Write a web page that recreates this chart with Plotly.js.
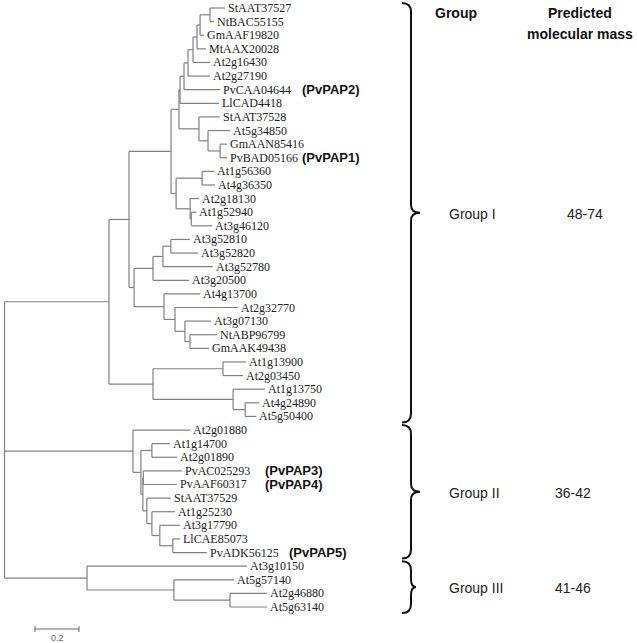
<!DOCTYPE html>
<html><head><meta charset="utf-8">
<script src="https://cdn.plot.ly/plotly-3.0.1.min.js"></script>
<style>html,body{margin:0;padding:0;background:#fff}</style>
</head><body><div id="chart" style="width:637px;height:643px"></div>
<script>
// ---------- DATA ----------
const leafOrder = [
  "StAAT37527","NtBAC55155","GmAAF19820","MtAAX20028","At2g16430","At2g27190","PvCAA04644","LlCAD4418",
  "StAAT37528","At5g34850","GmAAN85416","PvBAD05166","At1g56360","At4g36350","At2g18130","At1g52940",
  "At3g46120","At3g52810","At3g52820","At3g52780","At3g20500","At4g13700","At2g32770","At3g07130",
  "NtABP96799","GmAAK49438","At1g13900","At2g03450","At1g13750","At4g24890","At5g50400",
  "At2g01880","At1g14700","At2g01890","PvAC025293","PvAAF60317","StAAT37529","At1g25230","At3g17790",
  "LlCAE85073","PvADK56125",
  "At3g10150","At5g57140","At2g46880","At5g63140"
];
const nodeName = [
  "GI","N129","U","K","G","F","E","D","C","B","A",
  "StAAT37527","NtBAC55155","GmAAF19820","MtAAX20028","At2g16430","At2g27190","PvCAA04644","LlCAD4418",
  "H","StAAT37528","I","At5g34850","J","GmAAN85416","PvBAD05166",
  "L","L1","At1g56360","At4g36350","L2","At2g18130","L3","At1g52940","At3g46120",
  "M","M1","M2","M3","At3g52810","At3g52820","At3g52780","At3g20500",
  "M4","At4g13700","P","At2g32770","Q","At3g07130","R","NtABP96799","GmAAK49438",
  "S","T","At1g13900","At2g03450","W","At1g13750","X","At4g24890","At5g50400",
  "GII","At2g01880","Y","Z","At1g14700","At2g01890","Y2","P2","PvAC025293","PvAAF60317",
  "AA","StAAT37529","AB","At1g25230","AC","At3g17790","AD","LlCAE85073","PvADK56125",
  "GIII","At3g10150","AE","At5g57140","AF","At2g46880","At5g63140"
];
const nodeParent = [
  "root","GI","N129","U","K","G","F","E","D","C","B",
  "A","A","B","C","D","E","F","G",
  "K","H","H","I","I","J","J",
  "U","L","L1","L1","L","L2","L2","L3","L3",
  "N129","M","M1","M2","M3","M3","M2","M1",
  "M","M4","M4","P","P","Q","Q","R","R",
  "GI","S","T","T","S","W","W","X","X",
  "root","GII","GII","Y","Z","Z","Y","Y2","P2","P2",
  "Y2","AA","AA","AB","AB","AC","AC","AD","AD",
  "root","GIII","GIII","AE","AE","AF","AF"
];
const branchLength = [
  0.475,0.091,0.191,0.036,0.005,0.018,0.018,0.023,0.018,0.014,0.045,
  0.068,0.018,0.018,0.041,0.077,0.100,0.164,0.177,
  0.091,0.095,0.041,0.100,0.055,0.032,0.032,
  0.023,0.118,0.055,0.059,0.064,0.041,0.005,0.023,0.095,
  0.023,0.086,0.045,0.036,0.086,0.123,0.227,0.164,
  0.136,0.164,0.050,0.286,0.045,0.118,0.023,0.123,0.086,
  0.200,0.318,0.105,0.091,0.364,0.145,0.055,0.064,0.050,
  0.584,0.259,0.036,0.050,0.082,0.114,0.009,0.002,0.175,0.152,
  0.018,0.109,0.023,0.105,0.036,0.091,0.059,0.032,0.155,
  0.375,0.727,0.395,0.273,0.255,0.168,0.168
];
const papLeaf = ["PvCAA04644","PvBAD05166","PvAC025293","PvAAF60317","PvADK56125"];
const papName = ["(PvPAP2)","(PvPAP1)","(PvPAP3)","(PvPAP4)","(PvPAP5)"];
const groupName = ["Group I","Group II","Group III"];
const groupMass = ["48-74","36-42","41-46"];
const groupFirstLeaf = ["StAAT37527","At2g01880","At3g10150"];
const groupLastLeaf = ["At5g50400","PvADK56125","At5g63140"];
const scaleBarLength = 0.2;
const scaleBarLabel = "0.2";

// ---------- LAYOUT HELPERS ----------
const W = 637, Hh = 643;
const X0 = 4.5, PPU = 220;      // pixel of root, pixels per unit distance
const Y0 = 8, PPL = 13.614;     // pixel of first leaf, pixels per leaf
const dx = px => (px - X0) / PPU;
const dy = py => (py - Y0) / PPL;
const pyOf = y => Y0 + y * PPL;

// ---------- TREE GEOMETRY ----------
const depth = {root: 0};
function getDepth(n) {
  if (depth[n] !== undefined) return depth[n];
  const i = nodeName.indexOf(n);
  return depth[n] = getDepth(nodeParent[i]) + branchLength[i];
}
const children = {};
nodeName.forEach((n, i) => { (children[nodeParent[i]] = children[nodeParent[i]] || []).push(n); });
const yPos = {};
leafOrder.forEach((n, i) => yPos[n] = i);
function getY(n) {
  if (yPos[n] !== undefined) return yPos[n];
  const ys = children[n].map(getY);
  return yPos[n] = (Math.min(...ys) + Math.max(...ys)) / 2;
}
getY("root");
nodeName.forEach(getDepth);

const lx = [], ly = [];
nodeName.forEach((n, i) => {
  lx.push(getDepth(nodeParent[i]), depth[n], null);
  ly.push(yPos[n], yPos[n], null);
});
Object.keys(children).forEach(p => {
  const ys = children[p].map(c => yPos[c]);
  lx.push(depth[p], depth[p], null);
  ly.push(Math.min(...ys), Math.max(...ys), null);
});

const traces = [{
  x: lx, y: ly, mode: "lines", type: "scatter", hoverinfo: "skip",
  line: {color: "#808080", width: 1.2}, showlegend: false
}];

// scale bar
const sbX0 = dx(35), sbY = dy(629), tick = 3 / PPL;
traces.push({
  x: [sbX0, sbX0, null, sbX0, sbX0 + scaleBarLength, null, sbX0 + scaleBarLength, sbX0 + scaleBarLength],
  y: [sbY - tick, sbY + tick, null, sbY, sbY, null, sbY - tick, sbY + tick],
  mode: "lines", type: "scatter", hoverinfo: "skip", showlegend: false,
  line: {color: "#666", width: 1}
});

const ann = [];
const serif = "Liberation Serif, Times New Roman, serif";
const sans = "Liberation Sans, Arial, sans-serif";
leafOrder.forEach(n => {
  ann.push({x: depth[n], y: yPos[n], xref: "x", yref: "y", text: n, showarrow: false,
    xanchor: "left", yanchor: "middle", xshift: 1, font: {family: serif, size: 12, color: "#222"}});
});
const papPx = [300, 300, 263, 263, 287];
papLeaf.forEach((n, i) => {
  ann.push({x: dx(papPx[i]), y: yPos[n], xref: "x", yref: "y", text: "<b>" + papName[i] + "</b>", showarrow: false,
    xanchor: "left", yanchor: "middle", font: {family: sans, size: 13, color: "#111"}});
});
ann.push({x: dx(456), y: dy(13), xref: "x", yref: "y", text: "<b>Group</b>", showarrow: false,
  xanchor: "center", yanchor: "middle", font: {family: sans, size: 14, color: "#111"}});
ann.push({x: dx(580), y: dy(13), xref: "x", yref: "y", text: "<b>Predicted</b>", showarrow: false,
  xanchor: "center", yanchor: "middle", font: {family: sans, size: 14, color: "#111"}});
ann.push({x: dx(580), y: dy(34), xref: "x", yref: "y", text: "<b>molecular mass</b>", showarrow: false,
  xanchor: "center", yanchor: "middle", font: {family: sans, size: 14, color: "#111"}});
ann.push({x: sbX0 + scaleBarLength / 2, y: dy(638), xref: "x", yref: "y", text: scaleBarLabel, showarrow: false,
  xanchor: "center", yanchor: "middle", font: {family: sans, size: 9, color: "#666"}});

// braces
const shapes = [];
const bxL = 402, bxS = 411, bxT = 420;
groupName.forEach((g, i) => {
  const top = pyOf(yPos[groupFirstLeaf[i]]) - 5;
  const bot = pyOf(yPos[groupLastLeaf[i]]) + 6;
  const mid = (top + bot) / 2;
  const tip = i === 2 ? 416 : bxT;
  const P = (px, py) => dx(px) + "," + dy(py);
  const path = "M" + P(bxL, top) + " Q" + P(bxS, top) + " " + P(bxS, top + 9) +
    " L" + P(bxS, mid - 8) + " Q" + P(bxS, mid) + " " + P(tip, mid) +
    " Q" + P(bxS, mid) + " " + P(bxS, mid + 8) +
    " L" + P(bxS, bot - 9) + " Q" + P(bxS, bot) + " " + P(bxL, bot);
  shapes.push({type: "path", xref: "x", yref: "y", path: path, line: {color: "#111", width: 2}});
  ann.push({x: dx(447), y: dy(mid + 1), xref: "x", yref: "y", text: g, showarrow: false,
    xanchor: "left", yanchor: "middle", font: {family: sans, size: 14, color: "#222"}});
  ann.push({x: dx(i === 0 ? 565 : 553), y: dy(mid + 1), xref: "x", yref: "y", text: groupMass[i], showarrow: false,
    xanchor: "left", yanchor: "middle", font: {family: sans, size: 14, color: "#222"}});
});

const layout = {
  width: W, height: Hh, margin: {l: 0, r: 0, t: 0, b: 0},
  paper_bgcolor: "#fff", plot_bgcolor: "#fff",
  xaxis: {range: [dx(0), dx(W)], visible: false, fixedrange: true},
  yaxis: {range: [dy(Hh), dy(0)], visible: false, fixedrange: true},
  annotations: ann, shapes: shapes, showlegend: false
};
Plotly.newPlot("chart", traces, layout, {staticPlot: true, displayModeBar: false});
</script></body></html>
